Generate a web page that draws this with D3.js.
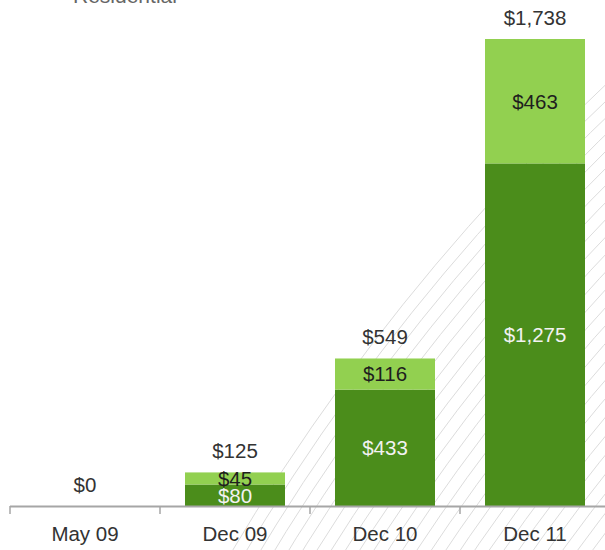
<!DOCTYPE html>
<html>
<head>
<meta charset="UTF-8">
<title>Stacked bars</title>
<script src="https://cdn.jsdelivr.net/npm/d3@7"></script>
<style>
  body { margin: 0; background: #fff; }
  text { font-family: "Liberation Sans", Arial, sans-serif; }
</style>
</head>
<body>
<svg id="chart" width="605" height="550"></svg>
<script>
// data
const categories = ["May 09", "Dec 09", "Dec 10", "Dec 11"];
const baseValues = [0, 80, 433, 1275];   // dark green
const topValues = [0, 45, 116, 463];     // light green
const totals = [0, 125, 549, 1738];

const darkGreen = "#4b8d1b";
const lightGreen = "#92d050";

const svg = d3.select("#chart");

// faint swoosh of arcs in the background
const hatch = svg.append("g")
    .attr("fill", "none")
    .attr("stroke", "#dcdcdc")
    .attr("stroke-width", 1);
const cx = 2091, cy = 1657;
d3.range(2163, 1800, -12).forEach(r => {
    const p = d3.path();
    p.arc(cx, cy, r, Math.PI * 1.02, Math.PI * 1.5);
    hatch.append("path").attr("d", p.toString());
});

// cut off title at the top
svg.append("text")
    .attr("x", 73)
    .attr("y", 3)
    .attr("font-size", 21)
    .attr("fill", "#666")
    .text("Residential");

const x = d3.scaleBand()
    .domain(categories)
    .range([10, 610]);

const y = d3.scaleLinear()
    .domain([0, 1738])
    .range([506, 39]);

const barW = 100;
const rows = categories.map((c, i) => ({ cat: c, base: baseValues[i], top: topValues[i], total: totals[i] }));

const stack = d3.stack().keys(["base", "top"]);
const series = stack(rows);
const colors = { base: darkGreen, top: lightGreen };
const textColors = { base: "#f2f2f2", top: "#1e1e1e" };

svg.append("g").selectAll("g")
    .data(series)
    .join("g")
    .attr("fill", d => colors[d.key])
    .selectAll("rect")
    .data(d => d)
    .join("rect")
    .attr("x", d => x(d.data.cat) + (x.bandwidth() - barW) / 2)
    .attr("width", barW)
    .attr("y", d => y(d[1]))
    .attr("height", d => y(d[0]) - y(d[1]));

// segment labels
series.forEach(s => {
    svg.append("g").selectAll("text")
        .data(s.filter(d => d[1] - d[0] > 0))
        .join("text")
        .attr("x", d => x(d.data.cat) + x.bandwidth() / 2)
        .attr("y", d => (y(d[0]) + y(d[1])) / 2)
        .attr("dy", "0.36em")
        .attr("text-anchor", "middle")
        .attr("font-size", 20.5)
        .attr("fill", textColors[s.key])
        .text(d => "$" + d3.format(",")(d[1] - d[0]));
});

// totals
svg.append("g").selectAll("text")
    .data(rows)
    .join("text")
    .attr("x", d => x(d.cat) + x.bandwidth() / 2)
    .attr("y", d => y(d.total) - 14)
    .attr("text-anchor", "middle")
    .attr("font-size", 20.5)
    .attr("fill", "#333")
    .text(d => "$" + d3.format(",")(d.total));

// axis
const axis = svg.append("g");
axis.append("line")
    .attr("x1", 10).attr("x2", 605)
    .attr("y1", 506.5).attr("y2", 506.5)
    .attr("stroke", "#a6a6a6")
    .attr("stroke-width", 2);
axis.selectAll(".tick")
    .data(categories)
    .join("line")
    .attr("class", "tick")
    .attr("x1", d => x(d)).attr("x2", d => x(d))
    .attr("y1", 506).attr("y2", 514)
    .attr("stroke", "#a6a6a6")
    .attr("stroke-width", 1.5);
axis.selectAll(".lab")
    .data(categories)
    .join("text")
    .attr("class", "lab")
    .attr("x", d => x(d) + x.bandwidth() / 2)
    .attr("y", 541)
    .attr("text-anchor", "middle")
    .attr("font-size", 20.5)
    .attr("fill", "#333")
    .text(d => d);
</script>
</body>
</html>
